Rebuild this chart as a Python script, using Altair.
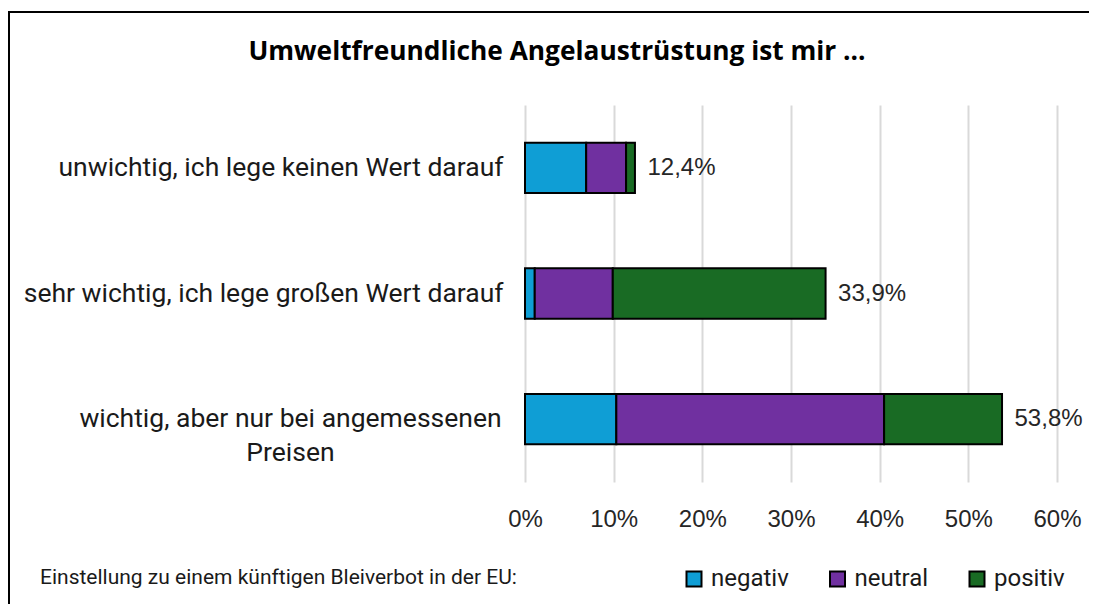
import altair as alt
import pandas as pd

categories = [
    "unwichtig, ich lege keinen Wert darauf",
    "sehr wichtig, ich lege großen Wert darauf",
    "wichtig, aber nur bei angemessenen Preisen",
]
series = ["negativ", "neutral", "positiv"]
negativ = [6.9, 1.1, 10.3]
neutral = [4.5, 8.8, 30.2]
positiv = [1.0, 24.0, 13.3]
x_ticks = [0, 10, 20, 30, 40, 50, 60]
colors = ["#0F9ED5", "#7030A0", "#196B24"]

title_text = "Umweltfreundliche Angelaustrüstung ist mir ..."
legend_title = "Einstellung zu einem künftigen Bleiverbot in der EU:"

rows = []
for i, c in enumerate(categories):
    for j, (s, vals) in enumerate(zip(series, [negativ, neutral, positiv])):
        rows.append({"Kategorie": c, "Einstellung": s, "Anteil": vals[i], "Reihenfolge": j})
df = pd.DataFrame(rows)

totals = pd.DataFrame({
    "Kategorie": categories,
    "Summe": [round(a + b + c, 1) for a, b, c in zip(negativ, neutral, positiv)],
})
totals["Label"] = totals["Summe"].map(lambda v: f"{v:.1f}".replace(".", ",") + "%")

captions = pd.DataFrame({"Text": [title_text, legend_title]})

LABEL_FONT = "Roboto"
TITLE_FONT = "Open Sans"
NUM_FONT = "Liberation Sans"
TXT = "#1a1a1a"
long_label = categories[2]

y_enc = alt.Y(
    "Kategorie:N",
    sort=categories,
    title=None,
    scale=alt.Scale(paddingInner=0.6, paddingOuter=0.3),
    axis=alt.Axis(
        domain=False,
        ticks=False,
        grid=False,
        labelFont=LABEL_FONT,
        labelFontSize=26.5,
        labelColor=TXT,
        labelLimit=600,
        labelLineHeight=34,
        labelExpr=f"datum.value == '{long_label}' ? ['wichtig, aber nur bei angemessenen', 'Preisen'] : datum.value",
        labelAlign={"condition": {"test": f"datum.value == '{long_label}'", "value": "center"}, "value": "right"},
        labelPadding={"condition": {"test": f"datum.value == '{long_label}'", "value": 235}, "value": 22},
    ),
)

bars = alt.Chart(df).mark_bar(stroke="black", strokeWidth=2, strokeJoin="miter").encode(
    x=alt.X(
        "Anteil:Q",
        stack="zero",
        title=None,
        scale=alt.Scale(domain=[0, 60], nice=False),
        axis=alt.Axis(
            values=x_ticks,
            labelExpr="datum.value + '%'",
            labelFlush=False,
            labelAlign="center",
            domain=False,
            ticks=False,
            grid=True,
            gridColor="#D9D9D9",
            gridWidth=2,
            labelFont=NUM_FONT,
            labelFontSize=24,
            labelColor="#262626",
            labelPadding=25,
        ),
    ),
    y=y_enc,
    color=alt.Color(
        "Einstellung:N",
        scale=alt.Scale(domain=series, range=colors),
        legend=alt.Legend(
            title=None,
            orient="none",
            legendX=157,
            legendY=462,
            direction="horizontal",
            symbolType="square",
            symbolSize=225,
            symbolStrokeColor="black",
            symbolStrokeWidth=2,
            labelFont=LABEL_FONT,
            labelFontSize=24,
            labelColor=TXT,
            labelOffset=5,
            columnPadding=36.5,
        ),
    ),
    order=alt.Order("Reihenfolge:Q"),
)

labels = alt.Chart(totals).mark_text(
    align="left", baseline="middle", dx=12.5, font=NUM_FONT, fontSize=24, color="#262626"
).encode(
    x=alt.X("Summe:Q"),
    y=alt.Y("Kategorie:N", sort=categories),
    text="Label:N",
)

title_mark = alt.Chart(captions).transform_filter(
    alt.datum.Text == title_text
).mark_text(
    align="center", baseline="middle", font=TITLE_FONT, fontSize=26.3, fontWeight="bold", color="black"
).encode(x=alt.value(32), y=alt.value(-53), text="Text:N")

legend_caption = alt.Chart(captions).transform_filter(
    alt.datum.Text == legend_title
).mark_text(
    align="left", baseline="middle", font=LABEL_FONT, fontSize=21, color=TXT
).encode(x=alt.value(-485), y=alt.value(473), text="Text:N")

frame = alt.Chart(totals).mark_rect(
    fillOpacity=0, stroke="black", strokeWidth=2
).encode(
    x=alt.value(-516), x2=alt.value(640), y=alt.value(-93), y2=alt.value(560)
)

chart = alt.layer(frame, bars, labels, title_mark, legend_caption).properties(
    width=532,
    height=377,
    autosize=alt.AutoSizeParams(type="none"),
    padding={"left": 517, "top": 97, "right": 32, "bottom": 122},
    background="white",
).configure_view(stroke=None)

chart.save("out.html", embed_options={"renderer": "svg", "actions": False})
